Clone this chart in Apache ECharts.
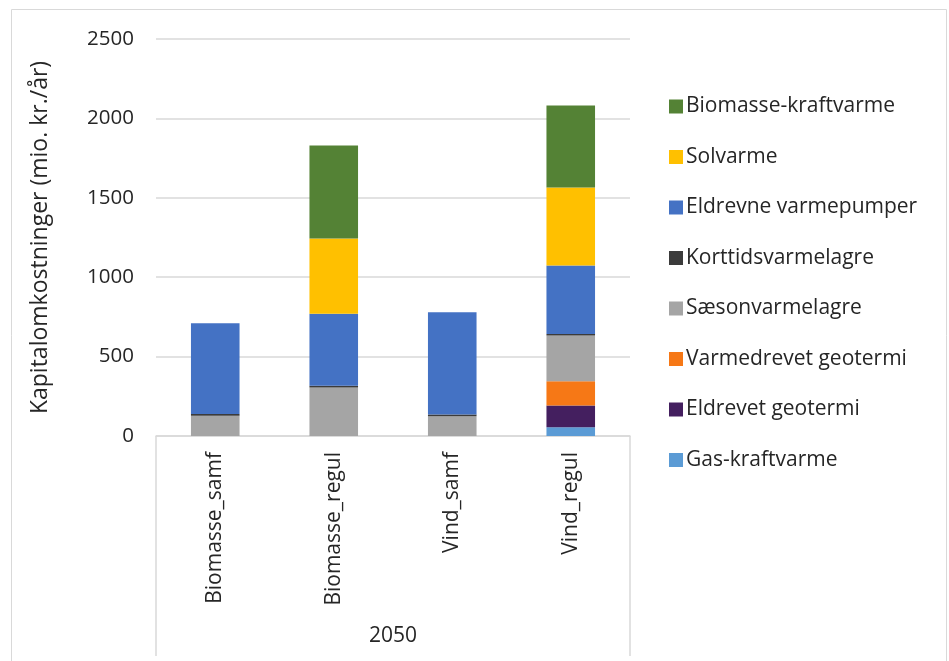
<!DOCTYPE html>
<html>
<head>
<meta charset="utf-8">
<script src="https://cdn.jsdelivr.net/npm/echarts@6/dist/echarts.min.js"></script>
<style>
  html, body { margin: 0; padding: 0; background: #fff; }
  #chart { width: 949px; height: 661px; }
</style>
</head>
<body>
<div id="chart"></div>
<script>
// Scenarios for 2050
const categories = ['Biomasse_samf', 'Biomasse_regul', 'Vind_samf', 'Vind_regul'];
const yearLabel = ['2050'];

// Capital costs per technology (mio. kr./år), stacked bottom to top
const gasKraftvarme       = [0, 0, 0, 55];
const eldrevetGeotermi    = [0, 0, 0, 137];
const varmedrevetGeotermi = [0, 0, 0, 153];
const saesonvarmelagre    = [128, 306, 125, 288];
const korttidsvarmelagre  = [10, 10, 10, 10];
const eldrevneVarmepumper = [572, 454, 645, 431];
const solvarme            = [0, 474, 0, 491];
const biomasseKraftvarme  = [0, 586, 0, 516];

const yTicks = { min: 0, max: 2500, interval: 500 };

const FONT = 'Open Sans';
const TEXT = '#262626';

const seriesDefs = [
  { name: 'Gas-kraftvarme', data: gasKraftvarme, color: '#5B9BD5' },
  { name: 'Eldrevet geotermi', data: eldrevetGeotermi, color: '#441F5F' },
  { name: 'Varmedrevet geotermi', data: varmedrevetGeotermi, color: '#F67816' },
  { name: 'Sæsonvarmelagre', data: saesonvarmelagre, color: '#A5A5A5' },
  { name: 'Korttidsvarmelagre', data: korttidsvarmelagre, color: '#3B3B3B' },
  { name: 'Eldrevne varmepumper', data: eldrevneVarmepumper, color: '#4472C4' },
  { name: 'Solvarme', data: solvarme, color: '#FFC000' },
  { name: 'Biomasse-kraftvarme', data: biomasseKraftvarme, color: '#548235' }
];

const chart = echarts.init(document.getElementById('chart'), null, { renderer: 'canvas' });

chart.setOption({
  animation: false,
  textStyle: { fontFamily: FONT },
  graphic: [{
    type: 'rect',
    shape: { x: 11.5, y: 9.5, width: 935, height: 670 },
    style: { fill: 'none', stroke: '#D9D9D9', lineWidth: 1 },
    silent: true
  }],
  legend: {
    orient: 'vertical',
    left: 664,
    top: 91,
    itemWidth: 14,
    itemHeight: 14,
    itemGap: 29.5,
    icon: 'rect',
    textStyle: { fontFamily: FONT, fontSize: 21, color: TEXT, padding: [0, 0, 0, -2] },
    data: seriesDefs.map(s => s.name).reverse()
  },
  grid: { left: 156, right: 319, top: 39, bottom: 225, containLabel: false },
  xAxis: [{
    type: 'category',
    data: categories,
    axisLine: { lineStyle: { color: '#D9D9D9', width: 1.5 } },
    axisTick: { show: false },
    axisLabel: { rotate: 90, fontSize: 21, color: TEXT, margin: 16, fontFamily: FONT }
  }, {
    type: 'category',
    data: yearLabel,
    position: 'bottom',
    axisLine: { show: false },
    axisTick: { show: true, length: 220, lineStyle: { color: '#D9D9D9', width: 1.5 } },
    axisLabel: { fontSize: 21, color: TEXT, margin: 190, fontFamily: FONT }
  }],
  yAxis: {
    type: 'value',
    min: yTicks.min,
    max: yTicks.max,
    interval: yTicks.interval,
    name: 'Kapitalomkostninger (mio. kr./år)',
    nameLocation: 'middle',
    nameRotate: 90,
    nameGap: 104,
    nameTextStyle: { fontSize: 23, color: TEXT, fontFamily: FONT },
    axisLine: { show: false },
    axisTick: { show: false },
    axisLabel: { fontSize: 20.5, color: TEXT, margin: 22, fontFamily: FONT, formatter: v => String(v) },
    splitLine: { lineStyle: { color: '#D9D9D9', width: 1.5 } }
  },
  series: seriesDefs.map(s => ({
    name: s.name,
    type: 'bar',
    stack: 'total',
    xAxisIndex: 0,
    barWidth: '41%',
    data: s.data,
    itemStyle: { color: s.color },
    emphasis: { disabled: true }
  }))
});
</script>
</body>
</html>
